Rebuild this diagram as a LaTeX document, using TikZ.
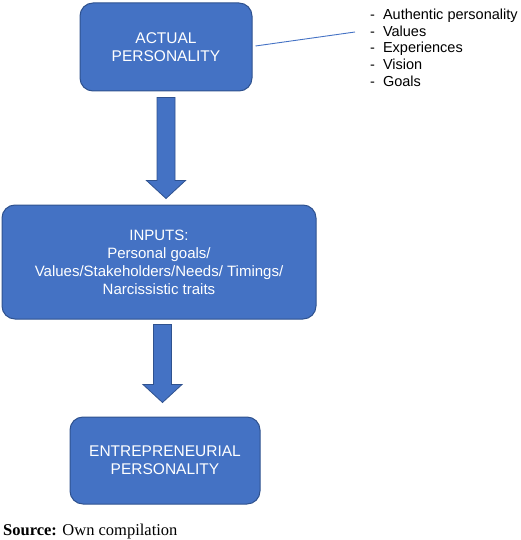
\documentclass[tikz,border=0pt]{standalone}
\usepackage{fontspec}
\setmainfont{Liberation Sans}
\newfontfamily\sourcefont{Liberation Serif}
\usetikzlibrary{calc}
\definecolor{boxblue}{HTML}{4472C4}
\definecolor{boxedge}{HTML}{2F528F}
\tikzset{
  stage/.style={draw=boxedge,line width=1pt,fill=boxblue,rounded corners=13pt,
    text=white,align=center,inner sep=0pt,
    font=\fontsize{15.5}{18}\selectfont},
  bigarrow/.style={draw=boxedge,line width=0.8pt,fill=boxblue}
}

\begin{document}
\begin{tikzpicture}[x=1pt,y=-1pt]
        \useasboundingbox (0,0) rectangle (520,540);

        % the three boxes
        \node[stage,minimum width=172pt,minimum height=88pt] (actual) at (166,47)
          {ACTUAL\\PERSONALITY};
        \node[stage,minimum width=314pt,minimum height=114pt,
              font=\fontsize{15}{18}\selectfont] (inputs) at (159,262)
          {INPUTS:\\Personal goals/\\Values/Stakeholders/Needs/ Timings/\\Narcissistic traits};
        \node[stage,minimum width=190pt,minimum height=87pt] (entre) at (165,460.5)
          {ENTREPRENEURIAL\\PERSONALITY};

        % ends of the block arrows
        \coordinate (a1s) at ([yshift=-6pt]actual.south);
        \coordinate (a1e) at ([yshift=6pt]inputs.north);
        \coordinate (a2s) at ([xshift=3.5pt,yshift=-5pt]inputs.south);
        \coordinate (a2e) at ([xshift=-2.5pt,yshift=14pt]entre.north);

        % the block arrows
        \foreach \s/\e in {a1s/a1e,a2s/a2e}
        {
          \draw[bigarrow] let \p1=(\s), \p2=(\e) in
            (\x1-9pt,\y1) -- (\x1+9pt,\y1) -- (\x1+9pt,\y2+18pt)
            -- (\x1+19.5pt,\y2+18pt) -- (\x1,\y2) -- (\x1-19.5pt,\y2+18pt)
            -- (\x1-9pt,\y2+18pt) -- cycle;
        }

        % the list and the line to it
        \node[anchor=base west,inner sep=0pt] (traits) at (370,19.5)
          {\fontsize{14.5}{16.75}\selectfont
           \begin{tabular}[t]{@{}l@{\hspace{8pt}}l@{}}
           - & Authentic personality\\
           - & Values\\
           - & Experiences\\
           - & Vision\\
           - & Goals
           \end{tabular}};
        \coordinate (traitsend) at (355,32);
        \draw[boxblue,line width=0.9pt] ([xshift=3pt,yshift=1pt]actual.east) -- (traitsend);

        % the source line
        \node[anchor=base west,inner sep=0pt,font=\sourcefont\fontsize{16.5}{18}\selectfont]
          (source) at (3,535) {\textbf{Source:} Own compilation};
    \end{tikzpicture}
\end{document}
